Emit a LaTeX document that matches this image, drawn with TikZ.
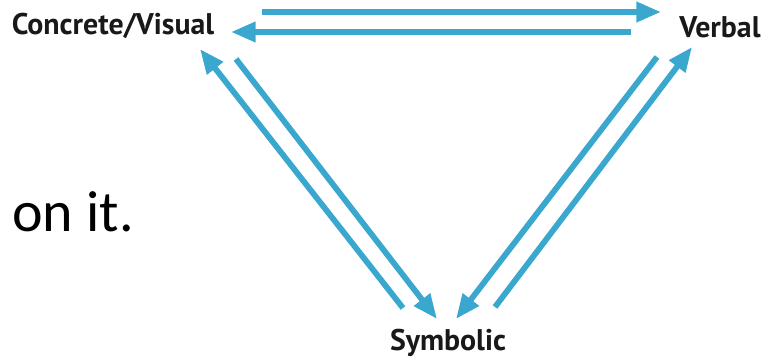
\documentclass[tikz,border=0pt]{standalone}
\usepackage{fontspec}
\setmainfont{PT Sans}
\newfontfamily\slidefont{Carlito}
\usetikzlibrary{arrows.meta}

\definecolor{linkblue}{RGB}{58,167,206}

\tikzset{
  mode/.style={font=\bfseries\fontsize{17}{20}\selectfont, text=black!90, inner sep=0pt},
  link/.style={draw=linkblue, line width=3.3pt, -{Triangle[length=14pt,width=11pt]}},
}

\begin{document}
\begin{tikzpicture}[x=0.02cm, y=-0.02cm]
  \useasboundingbox (0,0) rectangle (778,362);

  % the three representations
  \node[mode] (cv)  at (113,26)  {Concrete/Visual};
  \node[mode] (vb)  at (720,27)  {Verbal};
  \node[mode] (sym) at (448,343) {Symbolic};

  % leftover slide text
  \node[font=\slidefont\fontsize{33}{38}\selectfont, anchor=base west, inner sep=0pt] (txt) at (12,231) {on it.};

  % arrow ends
  \coordinate (cvtop) at (262,12);
  \coordinate (vbtop) at (661,12);
  \coordinate (vblow) at (631,32);
  \coordinate (cvlow) at (231,32);

  \coordinate (cvout) at (200,49);
  \coordinate (symlo) at (403,308);
  \coordinate (cvin)  at (236,59);
  \coordinate (symli) at (437,319);

  \coordinate (vbin)  at (657,57);
  \coordinate (symri) at (456,319);
  \coordinate (vbout) at (692,47);
  \coordinate (symro) at (495,307);

  % top pair
  \draw[link] (cvtop) -- (vbtop);
  \draw[link] (vblow) -- (cvlow);

  % left pair
  \draw[link] (symlo) -- (cvout);
  \draw[link] (cvin) -- (symli);

  % right pair
  \draw[link] (vbin) -- (symri);
  \draw[link] (symro) -- (vbout);
\end{tikzpicture}
\end{document}
